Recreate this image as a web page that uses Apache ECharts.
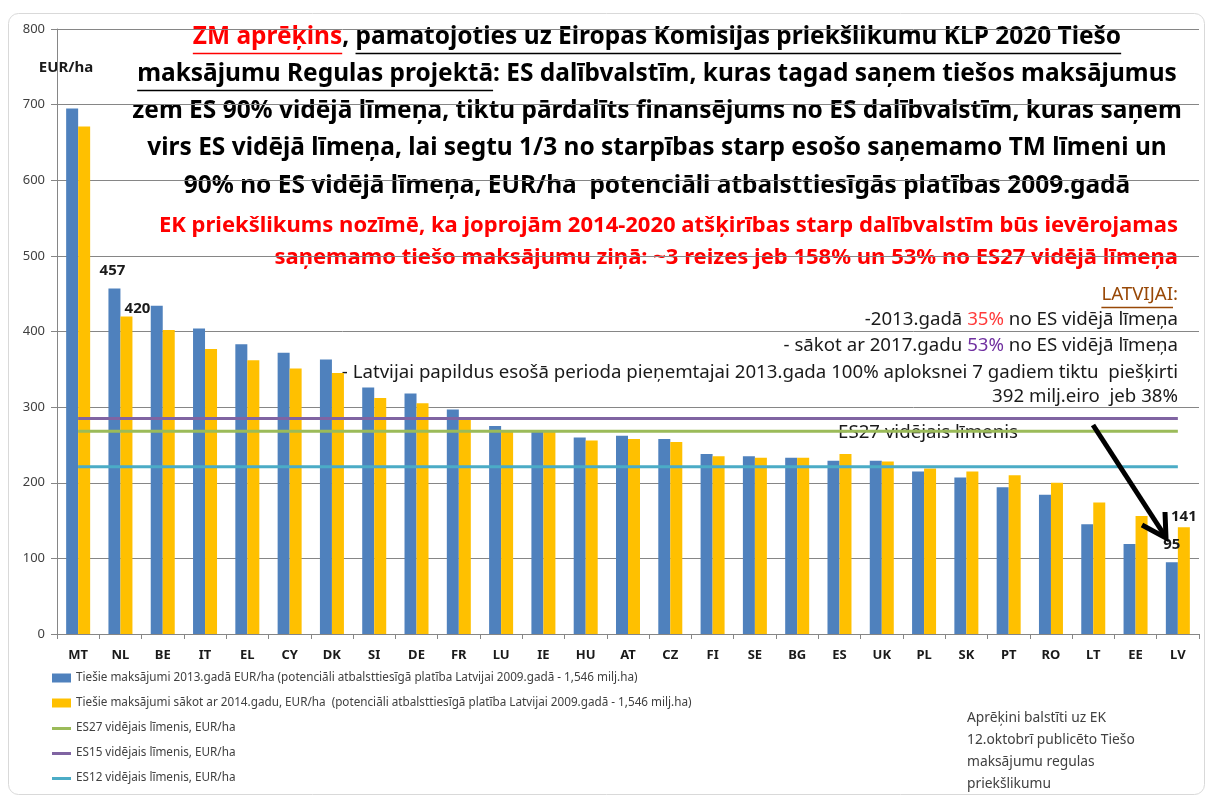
<!DOCTYPE html>
<html>
<head>
<meta charset="utf-8">
<title>Tiešie maksājumi</title>
<script src="https://cdn.jsdelivr.net/npm/echarts@6/dist/echarts.min.js"></script>
<style>
  html, body { margin: 0; padding: 0; background: #fff; }
  #chart { width: 1209px; height: 798px; }
</style>
</head>
<body>
<div id="chart"></div>
<script>
// data
const countries = ['MT', 'NL', 'BE', 'IT', 'EL', 'CY', 'DK', 'SI', 'DE', 'FR', 'LU', 'IE', 'HU', 'AT',
  'CZ', 'FI', 'SE', 'BG', 'ES', 'UK', 'PL', 'SK', 'PT', 'RO', 'LT', 'EE', 'LV'];
const pay2013 = [695, 457, 434, 404, 383, 372, 363, 326, 318, 297, 275, 268, 260, 262,
  258, 238, 235, 233, 229, 229, 215, 207, 194, 184, 145, 119, 95];
const pay2014 = [671, 420, 402, 377, 362, 351, 345, 312, 305, 284, 268, 268, 256, 258,
  254, 235, 233, 233, 238, 228, 219, 215, 210, 200, 174, 156, 141];
const avgEs27 = 268;
const avgEs15 = 285;
const avgEs12 = 221;
const yMin = 0;
const yMax = 800;
const yStep = 100;
const labelled = ['NL', 'LV'];

const seriesNames = [
  'Tiešie maksājumi 2013.gadā EUR/ha (potenciāli atbalsttiesīgā platība Latvijai 2009.gadā - 1,546 milj.ha)',
  'Tiešie maksājumi sākot ar 2014.gadu, EUR/ha  (potenciāli atbalsttiesīgā platība Latvijai 2009.gadā - 1,546 milj.ha)',
  'ES27 vidējais līmenis, EUR/ha',
  'ES15 vidējais līmenis, EUR/ha',
  'ES12 vidējais līmenis, EUR/ha'
];

const sans = '"Noto Sans", "Open Sans", sans-serif';
const dark = '#1a1a1a';
const grey = '#404040';

// text measuring, so the free text lines can be laid out piece by piece
const measure = document.createElement('canvas').getContext('2d');
const fontOf = (size, weight) => `${weight} ${size}px ${sans}`;
const widthOf = (text, font) => {
  measure.font = font;
  return measure.measureText(text).width;
};
const fitSize = (text, weight, target) => 20 * target / widthOf(text, fontOf(20, weight));

const textLine = (parts, o) => {
  const font = fontOf(o.size, o.weight);
  const widths = parts.map(p => widthOf(p.text, font));
  const total = widths.reduce((a, b) => a + b, 0);
  let x = o.align === 'right' ? o.x - total : o.align === 'center' ? o.x - total / 2 : o.x;
  const els = [];
  parts.forEach((p, i) => {
    const fill = p.color || o.color;
    els.push({
      type: 'text', x, y: o.y, silent: true,
      style: { text: p.text, font, fill, align: 'left', textAlign: 'left', verticalAlign: 'middle', textVerticalAlign: 'middle' }
    });
    if (p.underline) {
      const uy = Math.round(o.y + o.size * 0.66) + 0.5;
      els.push({
        type: 'line', silent: true,
        shape: { x1: x, y1: uy, x2: x + widths[i], y2: uy },
        style: { stroke: fill, lineWidth: 1.6 }
      });
    }
    x += widths[i];
  });
  return els;
};

const titleSize = fitSize('zem ES 90% vidējā līmeņa, tiktu pārdalīts finansējums no ES dalībvalstīm, kuras saņem', 'bold', 1050);
const redSize = fitSize('EK priekšlikums nozīmē, ka joprojām 2014-2020 atšķirības starp dalībvalstīm būs ievērojamas', 'bold', 1020);
const lvSize = fitSize('- Latvijai papildus esošā perioda pieņemtajai 2013.gada 100% aploksnei 7 gadiem tiktu  piešķirti', 'normal', 837);
const noteSize = fitSize('12.oktobrī publicēto Tiešo', 'normal', 168);
const legendSize = fitSize(seriesNames[0], 'normal', 562);

const title = { size: titleSize, weight: 'bold', x: 657, align: 'center', color: '#000' };
const red = { size: redSize, weight: 'bold', x: 1178, align: 'right', color: '#ff0000' };
const lv = { size: lvSize, weight: 'normal', x: 1178, align: 'right', color: dark };

const graphics = [
  {
    type: 'rect', silent: true, z: -1,
    shape: { x: 8.5, y: 13.5, width: 1196, height: 781, r: 10 },
    style: { fill: 'none', stroke: '#d9d9d9', lineWidth: 1 }
  },
  ...textLine([{ text: 'EUR/ha' }], { size: 15, weight: 'bold', x: 66, y: 68, align: 'center', color: dark }),
  ...textLine([
    { text: 'ZM aprēķins', color: '#ff0000', underline: true },
    { text: ', ' },
    { text: 'pamatojoties uz Eiropas Komisijas priekšlikumu KLP 2020 Tiešo', underline: true }
  ], { ...title, y: 37 }),
  ...textLine([
    { text: 'maksājumu Regulas projektā', underline: true },
    { text: ': ES dalībvalstīm, kuras tagad saņem tiešos maksājumus' }
  ], { ...title, y: 74 }),
  ...textLine([{ text: 'zem ES 90% vidējā līmeņa, tiktu pārdalīts finansējums no ES dalībvalstīm, kuras saņem' }], { ...title, y: 111 }),
  ...textLine([{ text: 'virs ES vidējā līmeņa, lai segtu 1/3 no starpības starp esošo saņemamo TM līmeni un' }], { ...title, y: 148 }),
  ...textLine([{ text: '90% no ES vidējā līmeņa, EUR/ha  potenciāli atbalsttiesīgās platības 2009.gadā' }], { ...title, y: 186 }),
  ...textLine([{ text: 'EK priekšlikums nozīmē, ka joprojām 2014-2020 atšķirības starp dalībvalstīm būs ievērojamas' }], { ...red, y: 226 }),
  ...textLine([{ text: 'saņemamo tiešo maksājumu ziņā: ~3 reizes jeb 158% un 53% no ES27 vidējā līmeņa' }], { ...red, y: 258 }),
  ...textLine([{ text: 'LATVIJAI', color: '#984807', underline: true }, { text: ':', color: '#984807' }], { ...lv, y: 295 }),
  ...textLine([
    { text: '-2013.gadā ' }, { text: '35%', color: '#ff3b3b' }, { text: ' no ES vidējā līmeņa' }
  ], { ...lv, y: 320 }),
  ...textLine([
    { text: '- sākot ar 2017.gadu ' }, { text: '53%', color: '#7030a0' }, { text: ' no ES vidējā līmeņa' }
  ], { ...lv, y: 346 }),
  ...textLine([{ text: '- Latvijai papildus esošā perioda pieņemtajai 2013.gada 100% aploksnei 7 gadiem tiktu  piešķirti' }], { ...lv, y: 373 }),
  ...textLine([{ text: '392 milj.eiro  jeb 38%' }], { ...lv, y: 397 }),
  ...textLine([{ text: 'ES27 vidējais līmenis' }], { ...lv, x: 928, align: 'center', y: 433 }),
  {
    type: 'polyline', silent: true, z: 10,
    shape: { points: [[1093, 425], [1165, 536]] },
    style: { stroke: '#000', lineWidth: 5, fill: null }
  },
  {
    type: 'polyline', silent: true, z: 10,
    shape: { points: [[1142, 525], [1166, 538], [1165, 512]] },
    style: { stroke: '#000', lineWidth: 5, fill: null, lineJoin: 'miter' }
  },
  ...['Aprēķini balstīti uz EK', '12.oktobrī publicēto Tiešo', 'maksājumu regulas', 'priekšlikumu']
    .flatMap((t, i) => textLine([{ text: t }], { size: noteSize, weight: 'normal', x: 967, y: 718 + i * 22, align: 'left', color: grey }))
];

const labelSpots = {
  NL: [{ distance: 10, offset: [-2, 0] }, { distance: 0, offset: [11, 0] }],
  LV: [{ distance: 10, offset: [0, 0] }, { distance: 3, offset: [0, 0] }]
};

const barData = (values, k) => values.map((v, i) => {
  const c = countries[i];
  if (!labelled.includes(c)) return v;
  return {
    value: v,
    label: {
      show: true, position: 'top', ...labelSpots[c][k],
      fontFamily: sans, fontWeight: 'bold', fontSize: 15, color: dark
    }
  };
});

const flat = v => countries.map(() => v);

// thin bar for line entries in the legend; the tiny corner dots keep the full icon box
const lineIcon = 'path://M0,0L0.01,0L0,0.01Z M0,3.5L19,3.5L19,6.5L0,6.5Z M19,9L18.99,9L19,8.99Z';

const chart = echarts.init(document.getElementById('chart'));

chart.setOption({
  animation: false,
  backgroundColor: '#fff',
  color: ['#4f81bd', '#ffc000', '#9bbb59', '#8064a2', '#4bacc6'],
  textStyle: { fontFamily: sans },
  grid: { left: 57, right: 10, top: 29, bottom: 164 },
  legend: {
    orient: 'vertical',
    left: 47,
    top: 667,
    itemWidth: 19,
    itemHeight: 9,
    itemGap: 13,
    selectedMode: false,
    textStyle: { fontSize: legendSize, color: grey, fontFamily: sans },
    data: [
      { name: seriesNames[0], icon: 'rect' },
      { name: seriesNames[1], icon: 'rect' },
      { name: seriesNames[2], icon: lineIcon },
      { name: seriesNames[3], icon: lineIcon },
      { name: seriesNames[4], icon: lineIcon }
    ]
  },
  xAxis: {
    type: 'category',
    data: countries,
    axisLine: { lineStyle: { color: '#868686' } },
    axisTick: { show: true, length: 5, lineStyle: { color: '#868686' } },
    axisLabel: { margin: 15, fontSize: 13, fontWeight: 'bold', color: dark, interval: 0 }
  },
  yAxis: {
    type: 'value',
    min: yMin,
    max: yMax,
    interval: yStep,
    axisLine: { show: true, lineStyle: { color: '#868686' } },
    axisTick: { show: true, length: 6, lineStyle: { color: '#868686' } },
    axisLabel: { margin: 12, fontSize: 13, color: grey },
    splitLine: { lineStyle: { color: '#868686', width: 1 } }
  },
  series: [
    { name: seriesNames[0], type: 'bar', barWidth: 12, barGap: '0%', data: barData(pay2013, 0) },
    { name: seriesNames[1], type: 'bar', barWidth: 12, barGap: '0%', data: barData(pay2014, 1) },
    { name: seriesNames[2], type: 'line', symbol: 'none', z: 3, lineStyle: { width: 3 }, data: flat(avgEs27) },
    { name: seriesNames[3], type: 'line', symbol: 'none', z: 3, lineStyle: { width: 3 }, data: flat(avgEs15) },
    { name: seriesNames[4], type: 'line', symbol: 'none', z: 3, lineStyle: { width: 3 }, data: flat(avgEs12) }
  ],
  graphic: { elements: graphics }
});
</script>
</body>
</html>
